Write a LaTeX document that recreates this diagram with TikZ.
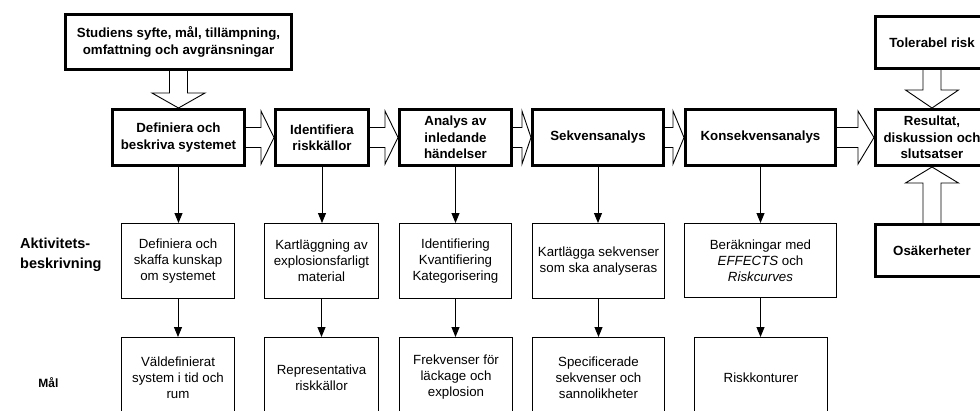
\documentclass[tikz,border=0pt]{standalone}
\usepackage{fontspec}
\setmainfont{Liberation Sans}
\usetikzlibrary{arrows.meta,calc}

\tikzset{
  stage/.style={draw, line width=2.6pt, inner sep=0pt, align=center,
    font=\fontsize{13.3}{16.5}\selectfont\bfseries},
  task/.style={draw, line width=1.2pt, inner sep=0pt, align=center,
    font=\fontsize{13.3}{16}\selectfont},
  rowlabel/.style={inner sep=0pt, align=left, font=\bfseries},
  blockarrow/.style={draw, line width=0.9pt, line join=miter},
  flow/.style={line width=0.9pt, -{Triangle[length=10pt,width=8pt]}}
}

% wide outlined arrow pointing right, from #1 to #2, head length #3 (pt)
\newcommand\hblock[3]{%
  \draw[blockarrow] let \p1=(#1.east), \p2=(#2.west) in
    (\x1,\y1+10pt) -- (\x2-#3pt,\y1+10pt) -- (\x2-#3pt,\y1+26.5pt) -- (\x2,\y1)
    -- (\x2-#3pt,\y1-26.5pt) -- (\x2-#3pt,\y1-10pt) -- (\x1,\y1-10pt);}
% wide outlined arrow pointing down, from #1 to #2
\newcommand\dblock[3]{%
  \draw[blockarrow] let \p1=(#1.south), \p2=(#2.north) in
    (\x1-9pt,\y1) -- (\x1-9pt,\y2+#3pt) -- (\x1-26.5pt,\y2+#3pt) -- (\x1,\y2)
    -- (\x1+26.5pt,\y2+#3pt) -- (\x1+9pt,\y2+#3pt) -- (\x1+9pt,\y1);}
% wide outlined arrow pointing up, from #1 to #2
\newcommand\ublock[3]{%
  \draw[blockarrow] let \p1=(#1.north), \p2=(#2.south) in
    (\x1-9pt,\y1) -- (\x1-9pt,\y2-#3pt) -- (\x1-26.5pt,\y2-#3pt) -- (\x1,\y2)
    -- (\x1+26.5pt,\y2-#3pt) -- (\x1+9pt,\y2-#3pt) -- (\x1+9pt,\y1);}

\begin{document}
\begin{tikzpicture}[x=1pt,y=-1pt]
\path[use as bounding box] (0,0) rectangle (980,410);
\clip (0,0) rectangle (980,410);

% scope and main stages
\node[stage, minimum width=226.4pt, minimum height=55.4pt] (scope) at (178.5,42)
  {Studiens syfte, mål, tillämpning,\\omfattning och avgränsningar};
\node[stage, minimum width=132.4pt, minimum height=56.4pt] (s1) at (178.5,137.5)
  {Definiera och\\beskriva systemet};
\node[stage, minimum width=93.4pt, minimum height=56.4pt] (s2) at (322,137.5)
  {Identifiera\\riskkällor};
\node[stage, minimum width=112.4pt, minimum height=56.4pt] (s3) at (455.5,137.5)
  {Analys av\\inledande\\händelser};
\node[stage, minimum width=131.4pt, minimum height=56.4pt] (s4) at (598,137.5)
  {Sekvensanalys};
\node[stage, minimum width=150.4pt, minimum height=56.4pt] (s5) at (760.5,137.5)
  {Konsekvensanalys};
\node[stage, minimum width=113.4pt, minimum height=56.4pt] (s6) at (932,137.5)
  {Resultat,\\diskussion och\\slutsatser};
\node[stage, minimum width=113.4pt, minimum height=52.4pt] (tol) at (932,42.5)
  {Tolerabel risk};
\node[stage, minimum width=113.4pt, minimum height=52.4pt] (osa) at (932,250.5)
  {Osäkerheter};

% activity descriptions
\node[task, minimum width=112.8pt, minimum height=74.8pt] (a1) at (178,261)
  {Definiera och\\skaffa kunskap\\om systemet};
\node[task, minimum width=113.8pt, minimum height=74.8pt] (a2) at (321.5,261)
  {Kartläggning av\\explosionsfarligt\\material};
\node[task, minimum width=111.8pt, minimum height=74.8pt] (a3) at (455.5,261)
  {Identifiering\\Kvantifiering\\Kategorisering};
\node[task, minimum width=131.8pt, minimum height=74.8pt] (a4) at (598.5,261)
  {Kartlägga sekvenser\\som ska analyseras};
\node[task, minimum width=151.8pt, minimum height=73.8pt] (a5) at (760.5,260.5)
  {Beräkningar med\\\textit{EFFECTS} och\\\textit{Riskcurves}};

% goals
\node[task, minimum width=112.8pt, minimum height=79.8pt] (g1) at (178,377.5)
  {Väldefinierat\\system i tid och\\rum};
\node[task, minimum width=113.8pt, minimum height=79.8pt] (g2) at (321.5,377.5)
  {Representativa\\riskkällor};
\node[task, minimum width=112.8pt, minimum height=79.8pt] (g3) at (456,377.5)
  {Frekvenser för\\läckage och\\explosion};
\node[task, minimum width=131.8pt, minimum height=79.8pt] (g4) at (598.5,377.5)
  {Specificerade\\sekvenser och\\sannolikheter};
\node[task, minimum width=132.8pt, minimum height=79.8pt] (g5) at (761,377.5)
  {Riskkonturer};

% row labels
\node[rowlabel, anchor=west, font=\fontsize{14.5}{19.5}\selectfont\bfseries] (lact) at (20,255)
  {Aktivitets-\\beskrivning};
\node[rowlabel, font=\fontsize{12}{14}\selectfont\bfseries] (lgoal) at (48.5,383) {Mål};

% wide arrows along the main chain
\dblock{scope}{s1}{15}
\hblock{s1}{s2}{13}
\hblock{s2}{s3}{13}
\hblock{s3}{s4}{9}
\hblock{s4}{s5}{11}
\hblock{s5}{s6}{16}
\dblock{tol}{s6}{18}
\ublock{osa}{s6}{16}

% stage -> activity -> goal
\foreach \i in {1,...,5} {
  \draw[flow] (s\i.south) -- (s\i.south |- a\i.north);
  \draw[flow] (a\i.south) -- (a\i.south |- g\i.north);
}
\end{tikzpicture}
\end{document}
